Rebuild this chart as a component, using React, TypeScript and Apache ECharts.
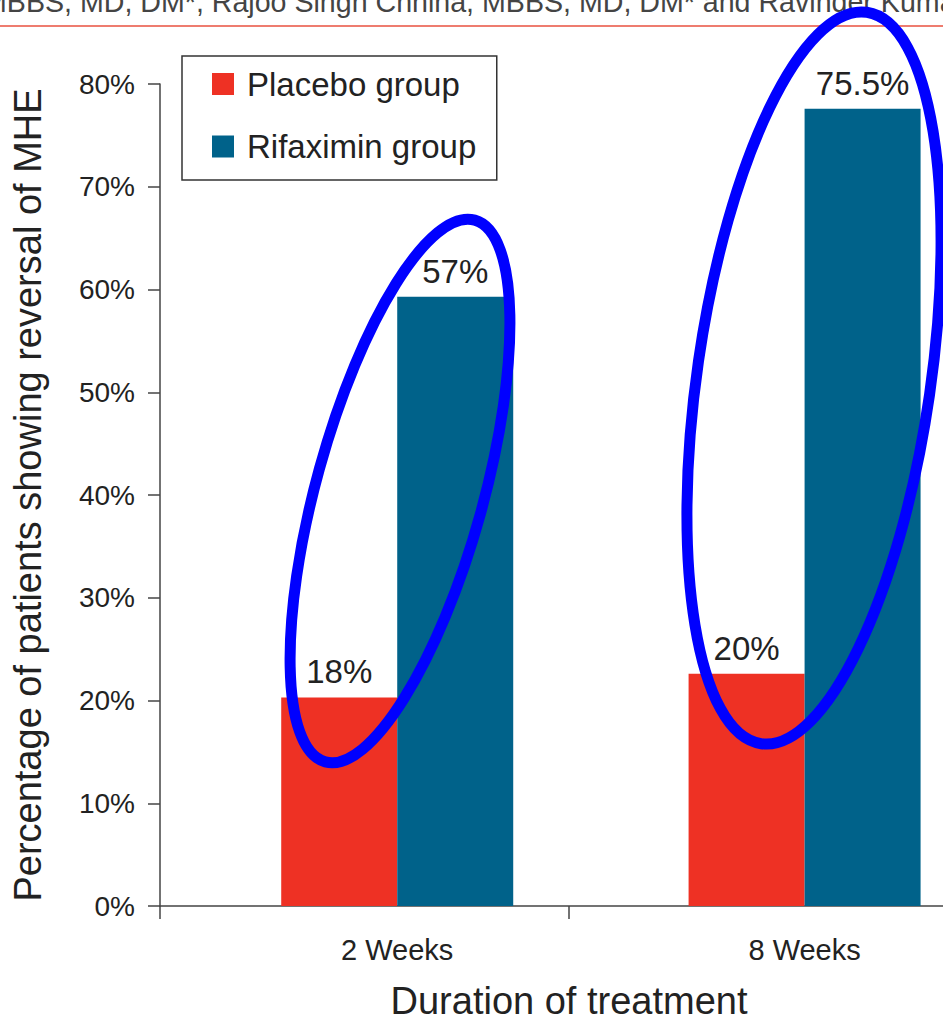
import React, { useEffect, useRef } from 'react';
import * as echarts from 'echarts';

// ---- data ----
const categories = ['2 Weeks', '8 Weeks'];
const seriesNames = ['Placebo group', 'Rifaximin group'];
const placeboValues = [20.3, 22.6];
const rifaximinValues = [59.3, 77.6];
const placeboLabels = ['18%', '20%'];
const rifaximinLabels = ['57%', '75.5%'];
const yMax = 80;
const yInterval = 10;
// category centres / boundaries on the x scale (axis units)
const groupCenters = [0.58, 1.576];
const boundaryTicks = [0, 1, 2];

const headerText = 'MBBS, MD, DM*, Rajoo Singh Chhina, MBBS, MD, DM* and Ravinder Kumar';

const FONT = "'Liberation Sans', Arial, Helvetica, sans-serif";
const RED = '#EE3124';
const BLUE = '#00628A';
const AXIS = '#444444';

export default function App() {
  const ref = useRef<HTMLDivElement>(null);

  useEffect(() => {
    if (!ref.current) return;
    const chart = echarts.init(ref.current, undefined, { renderer: 'svg' });

    const labelFor = (v: number) => {
      let best = 0;
      groupCenters.forEach((c, i) => {
        if (Math.abs(c - v) < Math.abs(groupCenters[best] - v)) best = i;
      });
      return categories[best];
    };

    const dataLabel = (labels: string[]) => ({
      show: true,
      position: 'top',
      distance: 9,
      fontSize: 33,
      lineHeight: 33,
      fontFamily: FONT,
      color: '#222',
      formatter: (p: any) => labels[p.dataIndex],
    });

    chart.setOption({
      animation: false,
      backgroundColor: '#ffffff',
      textStyle: { fontFamily: FONT },
      grid: {
        left: 160,
        top: 84,
        width: 818,
        height: 822,
        containLabel: false,
        outerBoundsMode: 'none',
      },
      legend: {
        orient: 'vertical',
        left: 182,
        top: 56,
        data: seriesNames,
        icon: 'rect',
        itemWidth: 22,
        itemHeight: 22,
        itemGap: 29.5,
        padding: [11.5, 20.5, 17, 30],
        borderColor: '#333',
        borderWidth: 1.5,
        backgroundColor: '#fff',
        textStyle: {
          fontSize: 33,
          lineHeight: 32,
          fontFamily: FONT,
          color: '#222',
          padding: [0, 0, 0, 8],
        },
      },
      xAxis: {
        type: 'value',
        min: 0,
        max: 2,
        interval: 1,
        name: 'Duration of treatment',
        nameLocation: 'middle',
        nameGap: 80,
        nameTextStyle: { fontSize: 38, lineHeight: 30, fontFamily: FONT, color: '#222' },
        axisLine: { show: true, lineStyle: { color: AXIS, width: 1.5 } },
        axisTick: { show: true, length: 13, customValues: boundaryTicks, lineStyle: { color: AXIS, width: 1.5 } },
        axisLabel: {
          customValues: groupCenters,
          formatter: (v: number) => labelFor(v),
          fontSize: 29,
          lineHeight: 29,
          fontFamily: FONT,
          color: '#222',
          margin: 29.5,
        },
        splitLine: { show: false },
      },
      yAxis: {
        type: 'value',
        min: 0,
        max: yMax,
        interval: yInterval,
        name: 'Percentage of patients showing reversal of MHE',
        nameLocation: 'middle',
        nameGap: 113,
        nameTextStyle: { fontSize: 38, lineHeight: 38, fontFamily: FONT, color: '#222' },
        axisLine: { show: true, lineStyle: { color: AXIS, width: 1.5 } },
        axisTick: { show: true, length: 12, lineStyle: { color: AXIS, width: 1.5 } },
        axisLabel: {
          formatter: '{value}%',
          fontSize: 28,
          fontFamily: FONT,
          color: '#222',
          margin: 25,
        },
        splitLine: { show: false },
      },
      series: [
        {
          name: seriesNames[0],
          type: 'bar',
          barWidth: 116,
          barGap: '0%',
          itemStyle: { color: RED },
          data: placeboValues.map((v, i) => [groupCenters[i], v]),
          label: dataLabel(placeboLabels),
        },
        {
          name: seriesNames[1],
          type: 'bar',
          barWidth: 116,
          barGap: '0%',
          itemStyle: { color: BLUE },
          data: rifaximinValues.map((v, i) => [groupCenters[i], v]),
          label: dataLabel(rifaximinLabels),
        },
      ],
      graphic: [
        {
          type: 'text',
          x: -17,
          y: 2,
          z: 50,
          style: {
            text: headerText,
            font: `28.6px ${FONT}`,
            fill: '#444',
            verticalAlign: 'middle',
          },
        },
        {
          type: 'line',
          z: 50,
          shape: { x1: 0, y1: 26, x2: 1000, y2: 26 },
          style: { stroke: '#E8503F', lineWidth: 1.5 },
        },
        {
          type: 'ellipse',
          x: 400,
          y: 491,
          rotation: -0.269,
          z: 100,
          shape: { cx: 0, cy: 0, rx: 83.6, ry: 281 },
          style: { fill: 'none', stroke: '#0000FF', lineWidth: 11 },
        },
        {
          type: 'ellipse',
          x: 814,
          y: 378,
          rotation: -0.143,
          z: 100,
          shape: { cx: 0, cy: 0, rx: 116.7, ry: 369.4 },
          style: { fill: 'none', stroke: '#0000FF', lineWidth: 11 },
        },
      ],
    });

    return () => {
      chart.dispose();
    };
  }, []);

  return (
    <div
      style={{
        position: 'fixed',
        left: 0,
        top: 0,
        width: 943,
        height: 1019,
        overflow: 'hidden',
        background: '#fff',
      }}
    >
      <div ref={ref} style={{ width: 1000, height: 1019 }} />
    </div>
  );
}
